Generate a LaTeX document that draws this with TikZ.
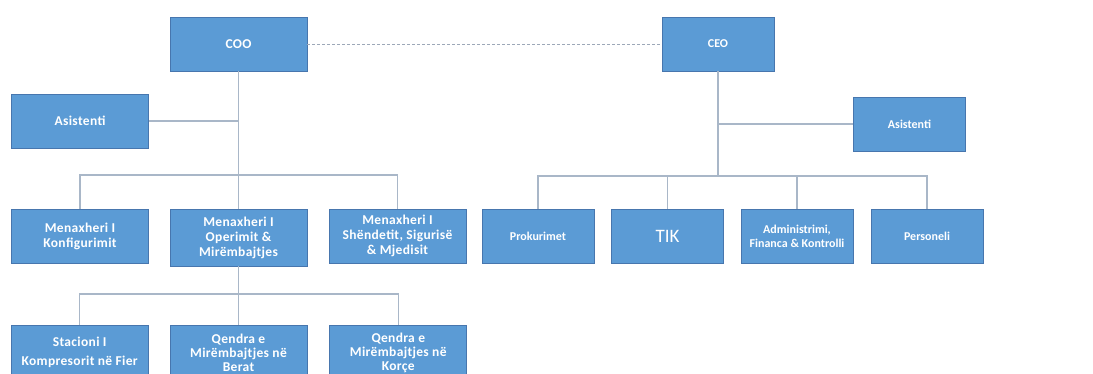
\documentclass[tikz,border=0pt]{standalone}
\usepackage{fontspec}
\setmainfont{Carlito}
\newfontfamily\wideboxfont[LetterSpace=2.5]{Carlito}
\usetikzlibrary{positioning}

\definecolor{boxfill}{HTML}{5B9BD5}
\definecolor{boxedge}{HTML}{4776AE}
\definecolor{linkgray}{HTML}{A9B7C8}
\definecolor{dashgray}{HTML}{9DA8B8}

\begin{document}
\begin{tikzpicture}[x=1pt, y=-1pt,
            unit/.style={draw=boxedge, fill=boxfill, text=white, align=center, inner sep=1pt, line width=0.8pt},
            leftunit/.style={unit, minimum width=137pt, minimum height=54pt, font=\wideboxfont\bfseries\fontsize{13.5}{15}\selectfont},
            rightunit/.style={unit, minimum width=112pt, minimum height=54pt, font=\bfseries\fontsize{12}{14}\selectfont},
            link/.style={draw=linkgray, line width=1.3pt},
            peer/.style={draw=dashgray, densely dashed, line width=0.8pt}
        ]
        \useasboundingbox (0,0) rectangle (1093,374);
        \clip (0,0) rectangle (1093,374);

        % COO side
        \node[leftunit] (coo) at (238.5,44) {COO};
        \node[leftunit] (asst1) at (80,121) {Asistenti};
        \node[leftunit] (konf) at (80,236) {Menaxheri I\\Konfigurimit};
        \node[leftunit, minimum height=57pt] (ops) at (238.5,237.5) {Menaxheri I\\Operimit \&\\Mirëmbajtjes};
        \node[leftunit] (shs) at (397.5,236) {Menaxheri I\\Shëndetit, Sigurisë\\\& Mjedisit};

        % stations under operations
        \node[leftunit, font=\wideboxfont\bfseries\fontsize{13.5}{14}\selectfont, below=59pt of ops] (ber) {Qendra e\\Mirëmbajtjes në\\Berat};
        \node[leftunit, left=21pt of ber] (fier) {Stacioni I\\[4pt]Kompresorit në Fier};
        \node[leftunit, font=\wideboxfont\bfseries\fontsize{13.5}{14}\selectfont, right=22pt of ber] (kor) {Qendra e\\Mirëmbajtjes në\\Korçe};

        % CEO side
        \node[rightunit] (ceo) at (718,44) {CEO};
        \node[rightunit] (asst2) at (909.5,124) {Asistenti};
        \node[rightunit] (prok) at (538,236) {Prokurimet};
        \node[rightunit, font=\fontsize{19}{20}\selectfont] (tik) at (667.5,236) {TIK};
        \node[rightunit] (adm) at (797,236) {Administrimi,\\Financa \& Kontrolli};
        \node[rightunit] (pers) at (927,236) {Personeli};

        % bus points
        \coordinate (bus1) at (238.5,175);
        \coordinate (bus2) at (238.5,294);
        \coordinate (bus3) at (718,176);

        % connectors, COO side
        \draw[link] (coo) -- (ops);
        \draw[link] (asst1) -- (asst1 -| coo);
        \draw[link] (konf.north) |- (bus1) -| (shs.north);
        \draw[link] (ops) -- (ber);
        \draw[link] (fier.north) |- (bus2) -| (kor.north);

        % connectors, CEO side
        \draw[link] (ceo) -- (bus3);
        \draw[link] (asst2) -- (asst2 -| ceo);
        \draw[link] (prok.north) |- (bus3) -| (pers.north);
        \draw[link] (tik.north) -- (tik.north |- bus3);
        \draw[link] (adm.north) -- (adm.north |- bus3);

        % dashed peer line
        \draw[peer] (coo) -- (ceo);
    \end{tikzpicture}
\end{document}
